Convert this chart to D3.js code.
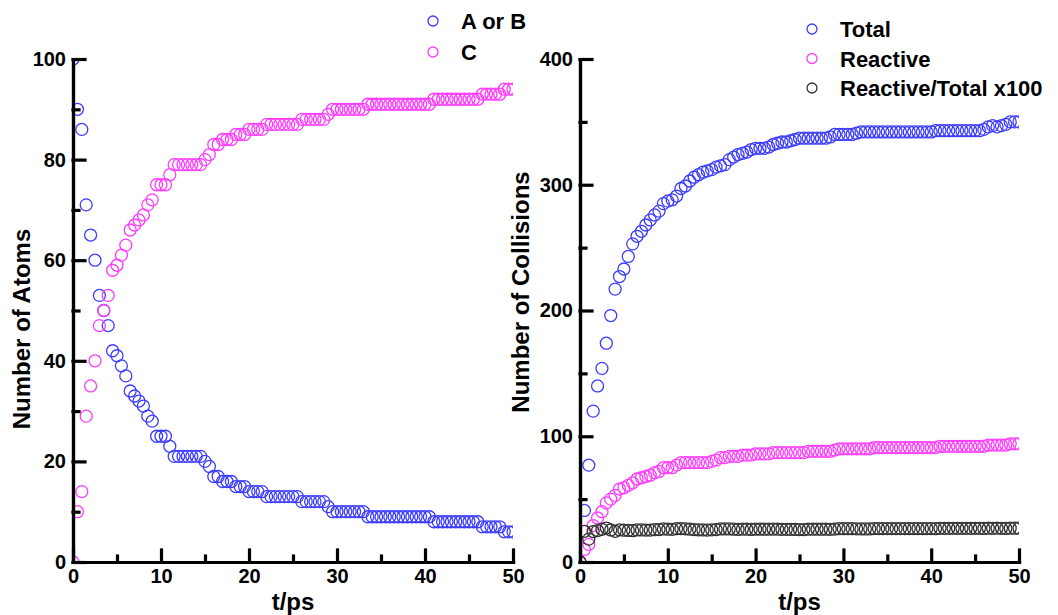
<!DOCTYPE html>
<html>
<head>
<title>Atoms and collisions</title>
<style>
body { margin: 0; background: #fff; }
text { font-family: "Liberation Sans", Arial, sans-serif; font-weight: bold; fill: #000; }
.title { font-size: 24px; }
.legend text { font-size: 22px; }
circle.pt { fill: none; stroke-width: 1.3; }
</style>
</head>
<body>
<div id="chart"></div>
<script src="https://cdn.jsdelivr.net/npm/d3@7"></script>
<script>
var width = 1058, height = 615;

// time points every 0.5 ps, 0..50
var times = d3.range(0, 101).map(function(i) { return i * 0.5; });

var atomsAB = [100, 90, 86, 71, 65, 60, 53, 50, 47, 42, 41, 39, 37, 34, 33, 32, 31, 29, 28, 25,
    25, 25, 23, 21, 21, 21, 21, 21, 21, 21, 20, 19, 17, 17, 16, 16, 16, 15, 15, 15,
    14, 14, 14, 14, 13, 13, 13, 13, 13, 13, 13, 13, 12, 12, 12, 12, 12, 12, 11, 10,
    10, 10, 10, 10, 10, 10, 10, 9, 9, 9, 9, 9, 9, 9, 9, 9, 9, 9, 9, 9, 9,
    9, 8, 8, 8, 8, 8, 8, 8, 8, 8, 8, 8, 7, 7, 7, 7, 7, 6, 6, 6];

var atomsC = [0, 10, 14, 29, 35, 40, 47, 50, 53, 58, 59, 61, 63, 66, 67, 68, 69, 71, 72, 75,
    75, 75, 77, 79, 79, 79, 79, 79, 79, 79, 80, 81, 83, 83, 84, 84, 84, 85, 85, 85,
    86, 86, 86, 86, 87, 87, 87, 87, 87, 87, 87, 87, 88, 88, 88, 88, 88, 88, 89, 90,
    90, 90, 90, 90, 90, 90, 90, 91, 91, 91, 91, 91, 91, 91, 91, 91, 91, 91, 91, 91, 91,
    91, 92, 92, 92, 92, 92, 92, 92, 92, 92, 92, 92, 93, 93, 93, 93, 93, 94, 94, 94];

var collTotal = [0, 41, 77, 120, 140, 154, 174, 196, 217, 227, 233, 243, 253, 259, 263, 268, 272, 276, 279, 285,
    287, 288, 291, 297, 299, 303, 306, 308, 310, 311, 312, 314, 315, 316, 320, 322, 324, 325, 326, 328,
    329, 329, 329, 330, 332, 333, 334, 334, 335, 336, 337, 337, 337, 337, 337, 337, 337, 338, 340, 340,
    340, 340, 340, 341, 342, 342, 342, 342, 342, 342, 342, 342, 342, 342, 342, 342, 342, 342, 342, 342, 342,
    343, 343, 343, 343, 343, 343, 343, 343, 343, 343, 343, 344, 346, 347, 346, 347, 348, 350, 350, 350];

var collReactive = [0, 10, 14, 29, 35, 40, 47, 50, 53, 58, 59, 61, 63, 66, 67, 68, 69, 71, 72, 75,
    75, 75, 77, 79, 79, 79, 79, 79, 79, 79, 80, 81, 83, 83, 84, 84, 84, 85, 85, 85,
    86, 86, 86, 86, 87, 87, 87, 87, 87, 87, 87, 87, 88, 88, 88, 88, 88, 88, 89, 90,
    90, 90, 90, 90, 90, 90, 90, 91, 91, 91, 91, 91, 91, 91, 91, 91, 91, 91, 91, 91, 91,
    91, 92, 92, 92, 92, 92, 92, 92, 92, 92, 92, 92, 93, 93, 93, 93, 93, 94, 94, 94];

var collRatio = [0, 24.4, 18.2, 24.2, 25.0, 26.0, 27.0, 25.5, 24.4, 25.6, 25.3, 25.1, 24.9, 25.5, 25.5, 25.4, 25.4, 25.7, 25.8, 26.3,
    26.1, 26.0, 26.5, 26.6, 26.4, 26.1, 25.8, 25.6, 25.5, 25.4, 25.6, 25.8, 26.3, 26.3, 26.3, 26.1, 25.9, 26.2, 26.1, 25.9,
    26.1, 26.1, 26.1, 26.1, 26.2, 26.1, 26.0, 26.0, 26.0, 25.9, 25.8, 25.8, 26.1, 26.1, 26.1, 26.1, 26.1, 26.0, 26.2, 26.5,
    26.5, 26.5, 26.5, 26.4, 26.3, 26.3, 26.3, 26.6, 26.6, 26.6, 26.6, 26.6, 26.6, 26.6, 26.6, 26.6, 26.6, 26.6, 26.6, 26.6, 26.6,
    26.5, 26.8, 26.8, 26.8, 26.8, 26.8, 26.8, 26.8, 26.8, 26.8, 26.8, 26.7, 26.9, 26.8, 26.9, 26.8, 26.7, 26.9, 26.9, 26.9];

var xMajor = [0, 10, 20, 30, 40, 50];
var xMinor = [5, 15, 25, 35, 45];
var atomsMajor = [0, 20, 40, 60, 80, 100];
var atomsMinor = [10, 30, 50, 70, 90];
var collMajor = [0, 100, 200, 300, 400];
var collMinor = [50, 150, 250, 350];

var blue = "#3c3cff", magenta = "#ff3cff", black = "#333333";

var svg = d3.select("#chart").append("svg")
    .attr("width", width)
    .attr("height", height);

// heavy black axis lines and bold labels, as in the original figure
function thick(g) {
    g.attr("font-size", 20)
        .attr("font-family", "'Liberation Sans', Arial, sans-serif")
        .attr("font-weight", "bold");
    g.selectAll("path, line")
        .attr("stroke", "#000")
        .attr("stroke-width", 3.2)
        .attr("stroke-linecap", "square");
}

function draw_panel(p) {
    var x = d3.scaleLinear().domain([0, 50]).range([p.left, p.right]);
    var y = d3.scaleLinear().domain(p.ydomain).range([p.bottom, p.top]);

    var clipId = "clip-" + p.id;
    svg.append("clipPath").attr("id", clipId)
      .append("rect")
        .attr("x", p.left).attr("y", p.top)
        .attr("width", p.right - p.left).attr("height", p.bottom - p.top);

    var gdata = svg.append("g").attr("clip-path", "url(#" + clipId + ")");
    p.series.forEach(function(s) {
        gdata.append("g").selectAll("circle")
            .data(s.values)
          .enter().append("circle")
            .attr("class", "pt")
            .attr("cx", function(d, i) { return x(times[i]); })
            .attr("cy", function(d) { return y(d); })
            .attr("r", 6)
            .attr("stroke", s.color);
    });

    // minor ticks first, then major axes on top
    svg.append("g")
        .attr("transform", "translate(0," + p.bottom + ")")
        .call(d3.axisBottom(x).tickValues(xMinor).tickSize(-6).tickSizeOuter(0).tickFormat(""))
        .call(thick);
    svg.append("g")
        .attr("transform", "translate(" + p.left + ",0)")
        .call(d3.axisLeft(y).tickValues(p.minor).tickSize(-6).tickSizeOuter(0).tickFormat(""))
        .call(thick);
    svg.append("g")
        .attr("transform", "translate(0," + p.bottom + ")")
        .call(d3.axisBottom(x).tickValues(xMajor).tickSize(-12).tickSizeOuter(0).tickPadding(7).tickFormat(d3.format("d")))
        .call(thick);
    svg.append("g")
        .attr("transform", "translate(" + p.left + ",0)")
        .call(d3.axisLeft(y).tickValues(p.major).tickSize(-12).tickSizeOuter(0).tickPadding(7).tickFormat(d3.format("d")))
        .call(thick);

    svg.append("text").attr("class", "title")
        .attr("text-anchor", "middle")
        .attr("x", (p.left + p.right) / 2)
        .attr("y", 610)
        .text("t/ps");
    svg.append("text").attr("class", "title")
        .attr("text-anchor", "middle")
        .attr("transform", "translate(" + p.ytitleX + "," + p.ytitleY + ") rotate(-90)")
        .text(p.ytitle);

    var lg = svg.append("g").attr("class", "legend");
    p.series.forEach(function(s, i) {
        var cy = p.legendY + i * p.legendStep;
        lg.append("circle")
            .attr("class", "pt")
            .attr("cx", p.legendX).attr("cy", cy).attr("r", 5)
            .attr("stroke", s.color);
        lg.append("text")
            .attr("x", p.legendX + 28).attr("y", cy + 8)
            .text(s.name);
    });
}

draw_panel({
    id: "atoms", left: 73, right: 513, top: 59, bottom: 562,
    ydomain: [0, 100], major: atomsMajor, minor: atomsMinor,
    ytitle: "Number of Atoms", ytitleX: 30, ytitleY: 329,
    legendX: 433, legendY: 21, legendStep: 31,
    series: [
        {name: "A or B", values: atomsAB, color: blue},
        {name: "C", values: atomsC, color: magenta}
    ]
});

draw_panel({
    id: "coll", left: 580, right: 1019, top: 59, bottom: 562,
    ydomain: [0, 400], major: collMajor, minor: collMinor,
    ytitle: "Number of Collisions", ytitleX: 529, ytitleY: 292,
    legendX: 812, legendY: 29, legendStep: 29.5,
    series: [
        {name: "Total", values: collTotal, color: blue},
        {name: "Reactive", values: collReactive, color: magenta},
        {name: "Reactive/Total x100", values: collRatio, color: black}
    ]
});
</script>
</body>
</html>
